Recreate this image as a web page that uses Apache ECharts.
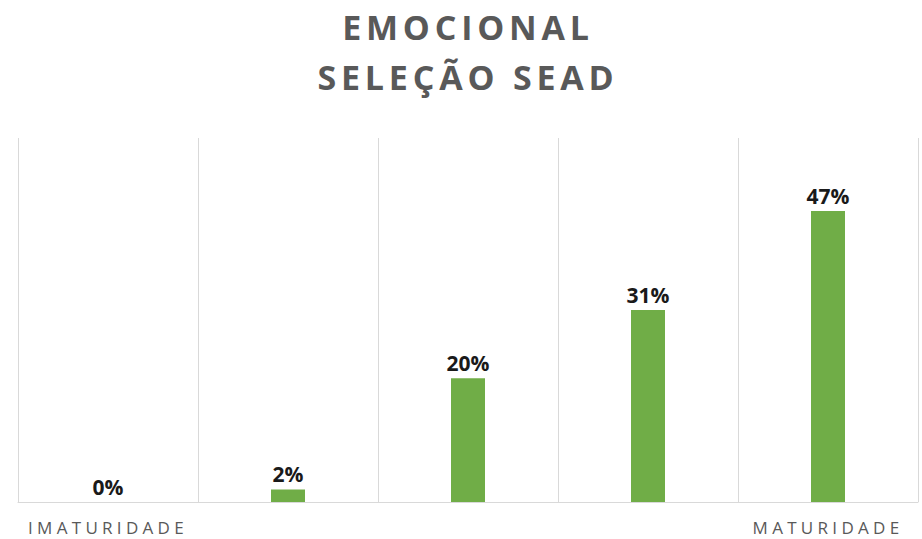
<!DOCTYPE html>
<html>
<head>
<meta charset="utf-8">
<script src="https://cdn.jsdelivr.net/npm/echarts@6/dist/echarts.min.js"></script>
<style>
  html, body { margin: 0; padding: 0; background: #ffffff; }
  #chart { width: 922px; height: 539px; }
</style>
</head>
<body>
<div id="chart"></div>
<script>
// Maturity scale, left (immature) to right (mature)
const categories = ['IMATURIDADE', '', '', '', 'MATURIDADE'];
// Share of responses per level, in percent
const values = [0, 2, 20, 31, 47];
const titleLines = ['EMOCIONAL', 'SELEÇÃO SEAD'];

const chart = echarts.init(document.getElementById('chart'), null, { renderer: 'svg' });

chart.setOption({
  animation: false,
  backgroundColor: '#ffffff',
  title: {
    text: titleLines.join('\n'),
    left: 463,
    textAlign: 'center',
    top: -3,
    textStyle: {
      fontFamily: '"Open Sans", sans-serif',
      fontWeight: 'bold',
      fontSize: 34,
      lineHeight: 50,
      color: '#595959'
    }
  },
  grid: { left: 18, right: 4, top: 138, bottom: 37, containLabel: false },
  xAxis: {
    type: 'category',
    data: categories,
    boundaryGap: true,
    axisLine: { show: true, lineStyle: { color: '#d9d9d9', width: 1 } },
    axisTick: { show: false },
    splitLine: { show: true, lineStyle: { color: '#d9d9d9', width: 1 } },
    axisLabel: {
      interval: 0,
      margin: 17,
      fontFamily: '"Open Sans", sans-serif',
      fontSize: 17,
      color: '#595959'
    }
  },
  yAxis: {
    type: 'value',
    min: 0,
    max: 58.8,
    show: false,
    splitLine: { show: false }
  },
  series: [{
    type: 'bar',
    data: values,
    barWidth: 34,
    itemStyle: { color: '#70ad47' },
    label: {
      show: true,
      position: 'top',
      distance: 5,
      formatter: p => p.value + '%',
      fontFamily: '"Open Sans", sans-serif',
      fontWeight: 'bold',
      fontSize: 21,
      color: '#1a1a1a'
    }
  }]
});

// Spaced-out lettering for the title and the scale ends
function applySpacing() {
  document.querySelectorAll('#chart text').forEach(t => {
    const s = t.textContent;
    if (titleLines.includes(s)) {
      t.style.letterSpacing = '4.8px';
    } else if (categories.includes(s) && s !== '') {
      t.style.letterSpacing = '4.3px';
    }
  });
}
chart.on('finished', applySpacing);
applySpacing();
</script>
</body>
</html>
